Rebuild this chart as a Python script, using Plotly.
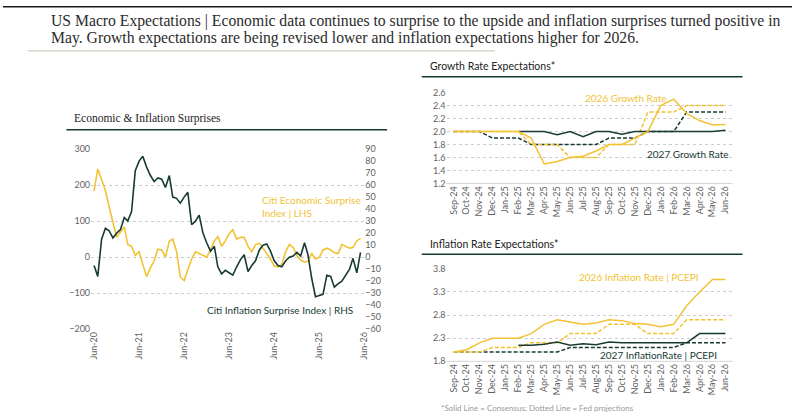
import plotly.graph_objects as go
import pandas as pd

W, H = 797, 415
def X(px): return px / W
def Y(py): return 1 - py / H

# ---------------- Data ----------------
surprise_dates = pd.date_range("2020-06-01", periods=72, freq="MS").strftime("%Y-%m-%d").tolist()

citi_econ_surprise = [184, 245, 215, 185, 140, 95, 55, 70, 84, 35, 30, 5,
                      15, -20, -54, -30, -10, 22, 20, 0, 45, 50, 15, -55,
                      -65, -35, -5, 15, 10, 5, 0, 20, 45, 57, 30, 45,
                      65, 76, 50, 55, 55, 30, 15, 35, 38, 25, 10, -5,
                      -25, -27, -20, 15, 35, 27, 5, -8, -14, -11, 10, -5,
                      0, 20, 25, 20, 12, 10, 35, 30, 25, 27, 45, 52]

citi_infl_surprise = [-7, -16, 15, 24, 22, 16, 20, 23, 33, 30, 38, 72,
                      80, 84, 75, 68, 63, 66, 65, 58, 68, 50, 49, 45,
                      50, 54, 27, 30, 35, 20, 12, 5, 9, -8, -14, -11,
                      -13, -15, -8, -2, 2, -12, -7, -3, 6, 10, 11, 5,
                      -3, -7, -8, -3, 0, 1, 4, 1, 12, 2, -18, -33,
                      -32, -31, -15, -16, -25, -22, -20, -15, -10, -1, -13, 4]

surprise_ticks = ["2020-06-01", "2021-06-01", "2022-06-01", "2023-06-01",
                  "2024-06-01", "2025-06-01", "2026-06-01"]

months = ["Sep-24", "Oct-24", "Nov-24", "Dec-24", "Jan-25", "Feb-25", "Mar-25", "Apr-25",
          "May-25", "Jun-25", "Jul-25", "Aug-25", "Sep-25", "Oct-25", "Nov-25", "Dec-25",
          "Jan-26", "Feb-26", "Mar-26", "Apr-26", "May-26", "Jun-26"]

growth_2026_cons = [2.0, 2.0, 2.0, 2.0, 2.0, 2.0, 1.9, 1.5, 1.54, 1.6, 1.62, 1.7,
                    1.8, 1.8, 1.9, 2.0, 2.4, 2.5, 2.28, 2.17, 2.1, 2.11]
growth_2026_fed = [2.0, 2.0, 2.0, 2.0, 2.0, 2.0, 1.8, 1.8, 1.8, 1.6, 1.6, 1.6,
                   1.8, 1.8, 1.8, 2.3, 2.3, 2.3, 2.4, 2.4, 2.4, 2.4]
growth_2027_cons = [None, None, None, None, None, 2.0, 2.0, 2.0, 1.95, 2.0, 1.92, 2.0,
                    2.0, 1.96, 2.0, 2.0, 2.0, 2.0, 2.0, 2.01, 2.0, 2.02]
growth_2027_fed = [2.0, 2.0, 2.0, 1.9, 1.9, 1.9, 1.8, 1.8, 1.8, 1.8, 1.8, 1.8,
                   1.9, 1.9, 1.9, 2.0, 2.0, 2.0, 2.3, 2.3, 2.3, 2.3]

infl_2026_cons = [2.0, 2.05, 2.2, 2.3, 2.3, 2.3, 2.4, 2.6, 2.7, 2.65, 2.6, 2.63,
                  2.7, 2.68, 2.62, 2.6, 2.55, 2.6, 3.0, 3.3, 3.57, 3.57]
infl_2026_fed = [2.0, 2.0, 2.0, 2.1, 2.1, 2.1, 2.2, 2.2, 2.2, 2.4, 2.4, 2.4,
                 2.6, 2.6, 2.6, 2.4, 2.4, 2.4, 2.7, 2.7, 2.7, 2.7]
infl_2027_cons = [None, None, None, None, None, 2.15, 2.15, 2.17, 2.22, 2.15, 2.18, 2.16,
                  2.22, 2.2, 2.2, 2.2, 2.2, 2.2, 2.2, 2.4, 2.4, 2.4]
infl_2027_fed = [2.0, 2.0, 2.0, 2.0, 2.0, 2.0, 2.0, 2.0, 2.0, 2.1, 2.1, 2.1,
                 2.1, 2.1, 2.1, 2.1, 2.1, 2.1, 2.2, 2.2, 2.2, 2.2]

# ---------------- Styles ----------------
GOLD = "#f2c233"
DARK = "#173b33"
GRID = "#cccccc"
TICK = "#5f5f5f"
SANS = "Lato, Open Sans, sans-serif"
SERIF = "Liberation Serif, DejaVu Serif, serif"
DASH = "4px,2px"

fig = go.Figure()

# Left chart
fig.add_trace(go.Scatter(x=surprise_dates, y=citi_econ_surprise, mode="lines",
                         line=dict(color=GOLD, width=1.6), xaxis="x", yaxis="y",
                         showlegend=False, hoverinfo="skip"))
fig.add_trace(go.Scatter(x=surprise_dates, y=citi_infl_surprise, mode="lines",
                         line=dict(color=DARK, width=1.6), xaxis="x", yaxis="y2",
                         showlegend=False, hoverinfo="skip"))

# Growth chart
for ys, col, dash in [(growth_2027_fed, DARK, DASH), (growth_2026_fed, GOLD, DASH),
                      (growth_2027_cons, DARK, "solid"), (growth_2026_cons, GOLD, "solid")]:
    fig.add_trace(go.Scatter(x=months, y=ys, mode="lines",
                             line=dict(color=col, width=1.5, dash=dash),
                             xaxis="x3", yaxis="y3", showlegend=False, hoverinfo="skip",
                             connectgaps=False))

# Inflation chart
for ys, col, dash in [(infl_2027_fed, DARK, DASH), (infl_2026_fed, GOLD, DASH),
                      (infl_2027_cons, DARK, "solid"), (infl_2026_cons, GOLD, "solid")]:
    fig.add_trace(go.Scatter(x=months, y=ys, mode="lines",
                             line=dict(color=col, width=1.5, dash=dash),
                             xaxis="x4", yaxis="y4", showlegend=False, hoverinfo="skip",
                             connectgaps=False))

tickfont = dict(family=SANS, size=9, color=TICK)

common_y = dict(showgrid=True, gridcolor=GRID, griddash="dot", gridwidth=1,
                zeroline=False, showline=False, ticks="", tickfont=tickfont)
common_x = dict(showgrid=False, zeroline=False, showline=False, ticks="",
                tickfont=tickfont, tickangle=-90)

fig.update_layout(
    width=W, height=H, autosize=False,
    margin=dict(l=0, r=0, t=0, b=0),
    paper_bgcolor="white", plot_bgcolor="rgba(0,0,0,0)",
    xaxis=dict(domain=[X(89), X(365)], type="date",
               range=["2020-05-08", "2026-06-01"],
               tickvals=surprise_ticks,
               tickformat="%b-%y", anchor="y", **common_x),
    yaxis=dict(domain=[Y(332), Y(147)], range=[-200, 300], dtick=100,
               anchor="x", **common_y),
    yaxis2=dict(domain=[Y(332), Y(147)], range=[-60, 90], dtick=10,
                overlaying="y", side="right", anchor="x", showgrid=False,
                zeroline=False, showline=False, ticks="", tickfont=tickfont),
    xaxis3=dict(domain=[X(448), X(737)], type="category", range=[-0.55, 21.55],
                anchor="y3", **common_x),
    yaxis3=dict(domain=[Y(182.3), Y(89)], range=[1.2, 2.6], dtick=0.2, tick0=1.2,
                tickformat=".1f", anchor="x3", **common_y),
    xaxis4=dict(domain=[X(448), X(737)], type="category", range=[-0.55, 21.55],
                anchor="y4", **common_x),
    yaxis4=dict(domain=[Y(365), Y(270)], range=[1.8, 3.8], dtick=0.5, tick0=1.8,
                tickformat=".1f", anchor="x4", **common_y),
)

shapes = []
# top dark border
shapes.append(dict(type="line", xref="paper", yref="paper", x0=0, x1=1, y0=Y(0.7), y1=Y(0.7),
                   line=dict(color="#1a1a1a", width=1.5)))
# line under title
shapes.append(dict(type="line", xref="paper", yref="paper", x0=X(25), x1=X(497), y0=Y(46), y1=Y(46),
                   line=dict(color="#d9d5cb", width=1.5)))
# section lines
for x0, x1, yy in [(64, 388, 127), (423, 747, 72.7), (423, 747, 255)]:
    shapes.append(dict(type="line", xref="paper", yref="paper", x0=X(x0), x1=X(x1),
                       y0=Y(yy), y1=Y(yy), line=dict(color=DARK, width=1.5)))
# bottom baselines of right charts
for yb in [182.3, 365]:
    shapes.append(dict(type="line", xref="paper", yref="paper", x0=X(448), x1=X(737),
                       y0=Y(yb), y1=Y(yb), line=dict(color="#d4d4d4", width=1)))
fig.update_layout(shapes=shapes)

ann = []
def add_text(txt, xpx, ypx, size, color, family, xanchor="left", yanchor="middle", align="left"):
    ann.append(dict(text=txt, x=X(xpx), y=Y(ypx), xref="paper", yref="paper",
                    xanchor=xanchor, yanchor=yanchor, showarrow=False, align=align,
                    font=dict(size=size, color=color, family=family)))

add_text("US Macro Expectations | Economic data continues to surprise to the upside and inflation surprises turned positive in",
         46, 15, 15.7, "#2b2b2b", SERIF)
add_text("May. Growth expectations are being revised lower and inflation expectations higher for 2026.",
         46, 33, 15.7, "#2b2b2b", SERIF)
add_text("Economic &amp; Inflation Surprises", 70, 116, 11.5, "#222222", SERIF)
add_text("Growth Rate Expectations*", 429, 62, 10.5, "#222222", SANS)
add_text("Inflation Rate Expectations*", 429, 244, 10.5, "#222222", SANS)

add_text("Citi Economic Surprise<br>Index | LHS", 364, 206, 10, GOLD, SANS,
         xanchor="right", align="left")
add_text("Citi Inflation Surprise Index | RHS", 356, 312, 10, DARK, SANS, xanchor="right")
add_text("2026 Growth Rate", 673, 94, 10, GOLD, SANS, xanchor="right")
add_text("2027 Growth Rate", 735, 152, 10, DARK, SANS, xanchor="right")
add_text("2026 Inflation Rate | PCEPI", 705, 278, 10, GOLD, SANS, xanchor="right")
add_text("2027 InflationRate | PCEPI", 723, 358, 10, DARK, SANS, xanchor="right")
add_text("*Solid Line = Consensus; Dotted Line = Fed projections", 440, 406, 8, "#9a9a9a", SANS,
         yanchor="top")
fig.update_layout(annotations=ann)

fig.write_html("out.html")
